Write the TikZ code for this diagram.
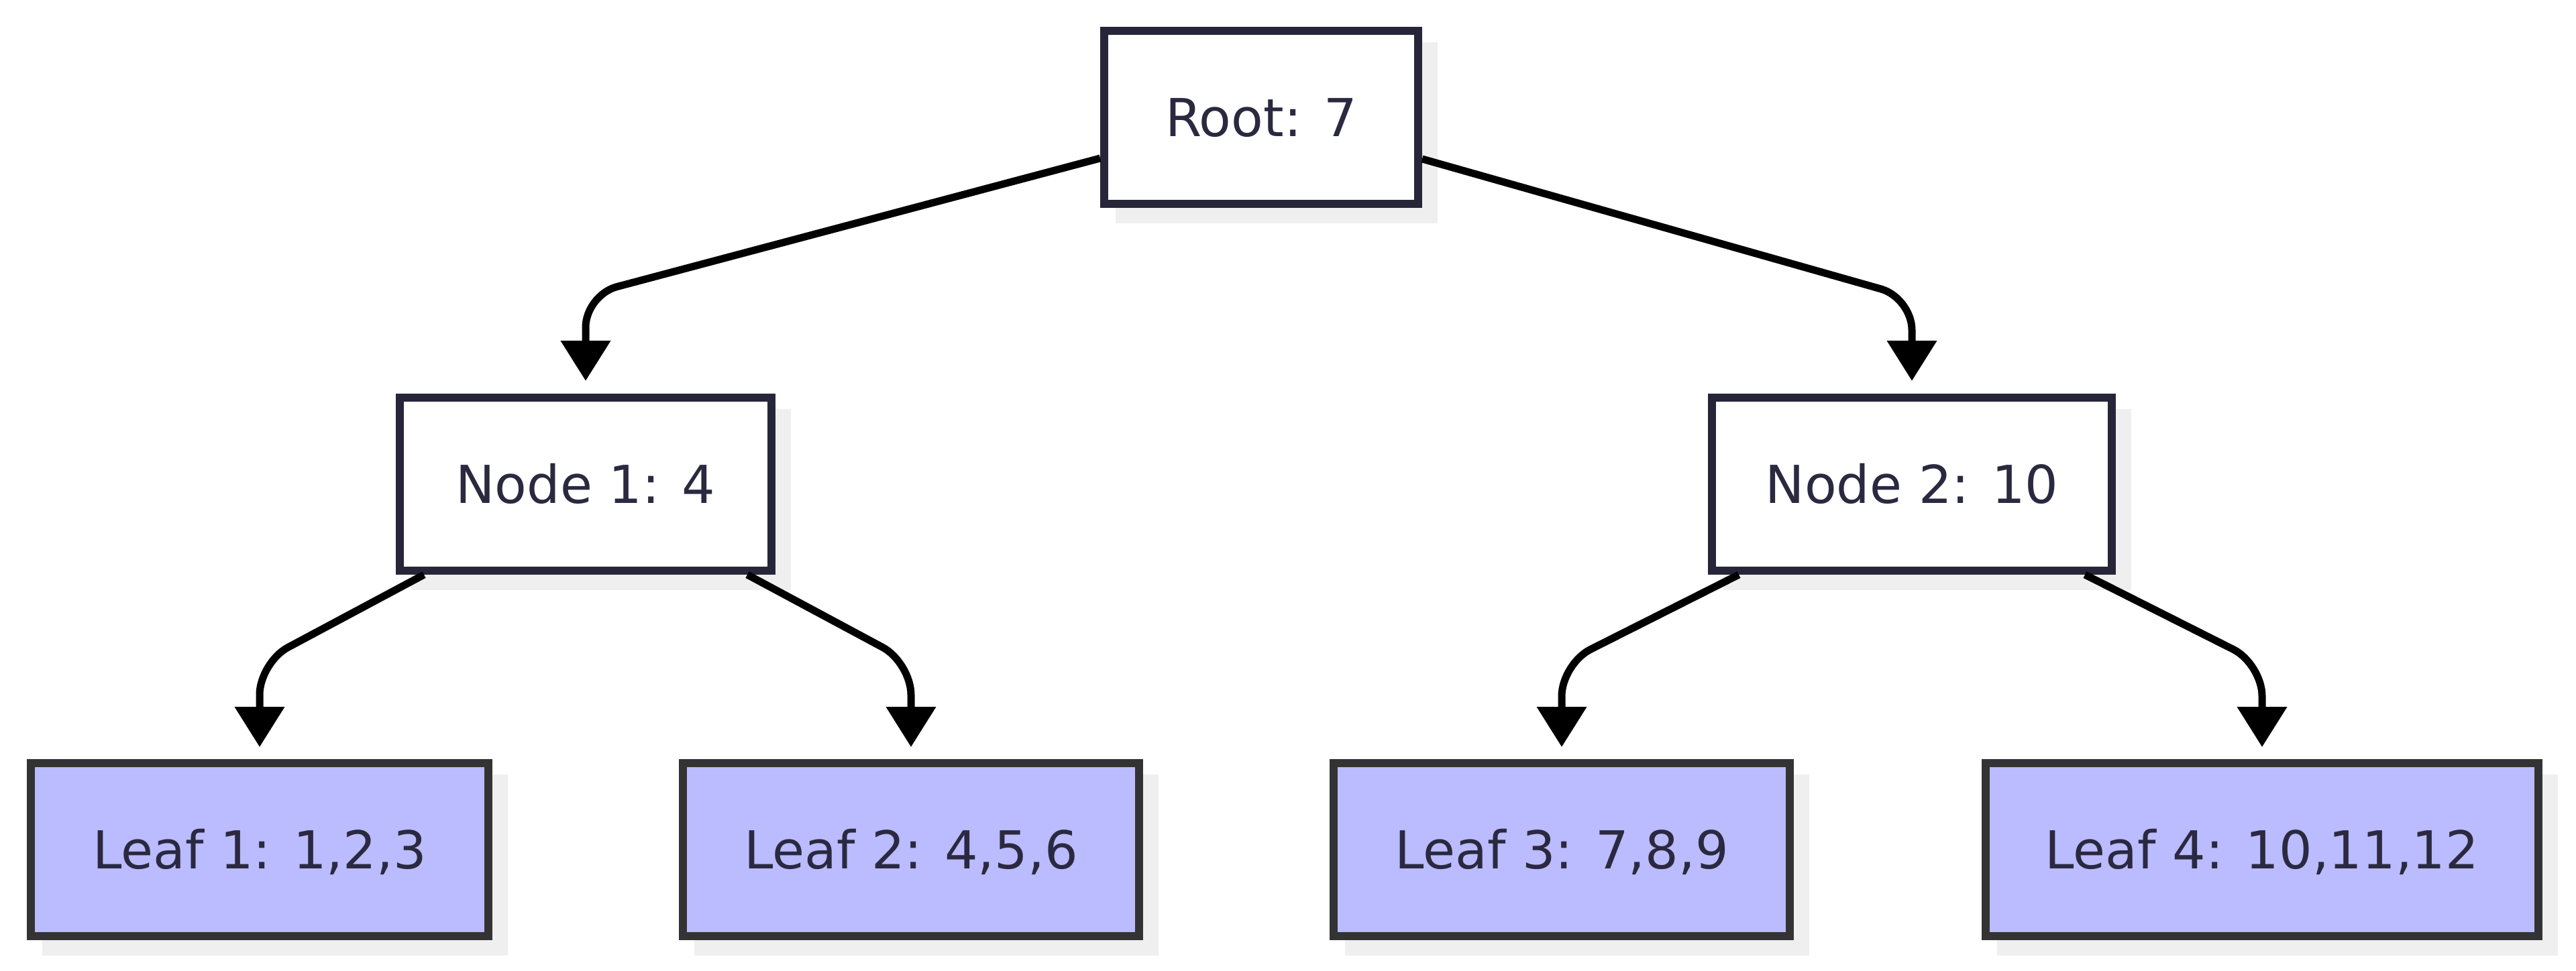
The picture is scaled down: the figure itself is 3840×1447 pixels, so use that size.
\documentclass[tikz,border=0pt]{standalone}
\usepackage{fontspec}
\setmainfont{DejaVu Sans}
\usetikzlibrary{arrows.meta,calc,shadows}
\definecolor{boxline}{HTML}{272639}
\definecolor{leafline}{HTML}{333333}
\definecolor{leaffill}{HTML}{BBBBFF}
\definecolor{shade}{HTML}{EFEFEF}
\definecolor{txt}{HTML}{2A2940}
\begin{document}
\begin{tikzpicture}[x=0.25pt,y=-0.25pt,
  box/.style={draw=boxline, line width=3pt, fill=white, minimum height=64.5pt,
    inner sep=0pt, text=txt, font=\fontsize{19.5pt}{23pt}\selectfont,
    text height=14.25pt, text depth=0pt,
    drop shadow={shadow xshift=5.75pt, shadow yshift=-5.75pt, fill=shade,
      draw=shade, line width=3pt, opacity=1}},
  leaf/.style={box, draw=leafline, fill=leaffill},
  conn/.style={line width=2.75pt, draw=black, rounded corners=12pt,
    -{Triangle[length=15pt,width=18pt]}}]
\useasboundingbox (0,0) rectangle (3840,1447);
\node[box, minimum width=117pt] (root) at (1880,175) {Root: 7};
\node[box, minimum width=138.5pt] (n1) at (873,722) {Node 1: 4};
\node[box, minimum width=149pt] (n2) at (2850,722) {Node 2: 10};
\node[leaf, minimum width=170.5pt] (l1) at (387,1267) {Leaf 1: 1,2,3};
\node[leaf, minimum width=170pt] (l2) at (1358,1267) {Leaf 2: 4,5,6};
\node[leaf, minimum width=170pt] (l3) at (2328,1267) {Leaf 3: 7,8,9};
\node[leaf, minimum width=206pt] (l4) at (3372,1267) {Leaf 4: 10,11,12};
\draw[conn] ($(root.west)+(0,61)$) -- (n1.north |- 0,440) -- ($(n1.north)+(0,-19)$);
\draw[conn] ($(root.east)+(0,62)$) -- (n2.north |- 0,444) -- ($(n2.north)+(0,-19)$);
\draw[conn] ($(n1.south)+(-241,0)$) -- (l1.north |- 0,988) -- ($(l1.north)+(0,-18)$);
\draw[conn] ($(n1.south)+(241,0)$) -- (l2.north |- 0,988) -- ($(l2.north)+(0,-18)$);
\draw[conn] ($(n2.south)+(-258,0)$) -- (l3.north |- 0,990) -- ($(l3.north)+(0,-18)$);
\draw[conn] ($(n2.south)+(258,0)$) -- (l4.north |- 0,990) -- ($(l4.north)+(0,-18)$);
\end{tikzpicture}
\end{document}
